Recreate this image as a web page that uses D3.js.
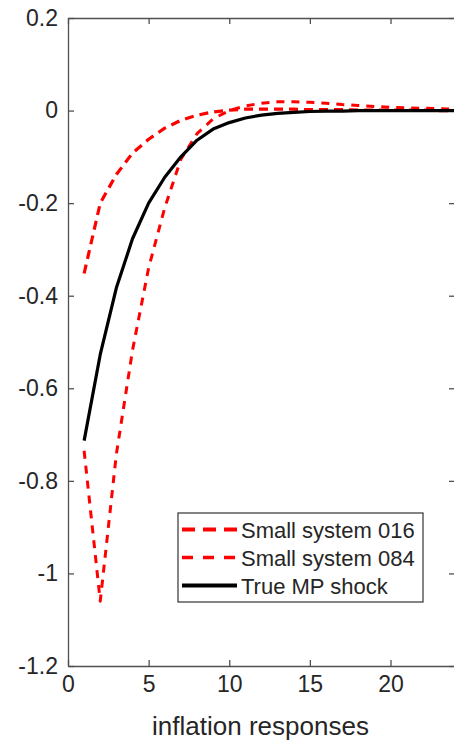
<!DOCTYPE html>
<html>
<head>
<meta charset="utf-8">
<script src="https://cdn.jsdelivr.net/npm/d3@7"></script>
<style>
  html, body { margin: 0; padding: 0; background: #fff; }
  svg { display: block; }
  text { font-family: "Liberation Sans", Arial, Helvetica, sans-serif; fill: #262626; }
</style>
</head>
<body>
<svg id="chart" width="454" height="745"></svg>
<script>
// ---- data ----
const periods = [1,2,3,4,5,6,7,8,9,10,11,12,13,14,15,16,17,18,19,20,21,22,23,24];
const small016 = [-0.352,-0.200,-0.138,-0.092,-0.062,-0.038,-0.021,-0.010,-0.003,0.001,0.003,0.003,0.003,0.003,0.002,0.002,0.002,0.001,0.001,0.001,0.001,0.001,0.000,0.000];
const small084 = [-0.735,-1.060,-0.742,-0.518,-0.340,-0.210,-0.105,-0.050,-0.018,0.000,0.010,0.016,0.019,0.019,0.018,0.016,0.013,0.011,0.009,0.007,0.006,0.005,0.004,0.003];
const trueMP  = [-0.713,-0.527,-0.383,-0.277,-0.200,-0.144,-0.100,-0.064,-0.040,-0.026,-0.016,-0.010,-0.006,-0.004,-0.002,-0.001,-0.001,0,0,0,0,0,0,0];
const xTicks = [0,5,10,15,20];
const yTicks = [0.2,0,-0.2,-0.4,-0.6,-0.8,-1,-1.2];
const seriesNames = ["Small system 016","Small system 084","True MP shock"];
const xLabel = "inflation responses";

// ---- layout ----
const L = 68, R = 455, T = 18, B = 666;
const svg = d3.select("#chart");
const x = d3.scaleLinear().domain([0,24]).range([L,R]);
const y = d3.scaleLinear().domain([-1.2,0.2]).range([B,T]);

const axisColor = "#505050";
const fmt = v => (v === 0 ? "0" : String(v));

// axes with inward ticks
const gB = svg.append("g").attr("transform",`translate(0,${B})`)
  .call(d3.axisBottom(x).tickValues(xTicks).tickSizeInner(-6).tickSizeOuter(0).tickPadding(10).tickFormat(fmt));
const gT = svg.append("g").attr("transform",`translate(0,${T})`)
  .call(d3.axisTop(x).tickValues(xTicks).tickSizeInner(-6).tickSizeOuter(0).tickFormat(""));
const gL = svg.append("g").attr("transform",`translate(${L},0)`)
  .call(d3.axisLeft(y).tickValues(yTicks).tickSizeInner(-6).tickSizeOuter(0).tickPadding(10).tickFormat(fmt));
const gR = svg.append("g").attr("transform",`translate(${R},0)`)
  .call(d3.axisRight(y).tickValues(yTicks).tickSizeInner(-6).tickSizeOuter(0).tickFormat(""));

[gB,gT,gL,gR].forEach(g => {
  g.select(".domain").attr("stroke",axisColor).attr("stroke-width",1.3);
  g.selectAll(".tick line").attr("stroke",axisColor).attr("stroke-width",1.3);
  g.selectAll("text").attr("font-size","23px").attr("fill","#262626")
    .attr("font-family",'"Liberation Sans", Arial, sans-serif');
});
gB.selectAll(".tick text").attr("dy","0.71em");

// x label
svg.append("text").attr("x",(L+R)/2 - 1).attr("y",735)
  .attr("text-anchor","middle").attr("font-size","26px").text(xLabel);

// ---- lines ----
const clip = svg.append("clipPath").attr("id","clip").append("rect")
  .attr("x",L).attr("y",T).attr("width",R-L).attr("height",B-T);
const line = d3.line().x((d,i)=>x(periods[i])).y(d=>y(d));
const plot = svg.append("g").attr("clip-path","url(#clip)");

const styles = [
  {data: small016, color:"#ff0000", width:3.2, dash:"9,6"},
  {data: small084, color:"#ff0000", width:3.0, dash:"8,7"},
  {data: trueMP,   color:"#000000", width:3.2, dash:null}
];
styles.forEach(s => {
  plot.append("path").datum(s.data)
    .attr("d",line).attr("fill","none")
    .attr("stroke",s.color).attr("stroke-width",s.width)
    .attr("stroke-dasharray",s.dash).attr("stroke-linejoin","round");
});

// ---- legend ----
const lg = svg.append("g");
lg.append("rect").attr("x",178).attr("y",513).attr("width",245).attr("height",89)
  .attr("fill","#fff").attr("stroke","#333").attr("stroke-width",1.2);
const legendDash = ["13,8","11,10",null];
const legendY = [529.5,557.5,585.5];
seriesNames.forEach((n,i) => {
  lg.append("line").attr("x1",182).attr("x2",237).attr("y1",legendY[i]).attr("y2",legendY[i])
    .attr("stroke",styles[i].color).attr("stroke-width",i===1?3.5:4)
    .attr("stroke-dasharray",legendDash[i]);
  lg.append("text").attr("x",241).attr("y",legendY[i]+8)
    .attr("font-size","22px").attr("fill","#000").text(n);
});
</script>
</body>
</html>
